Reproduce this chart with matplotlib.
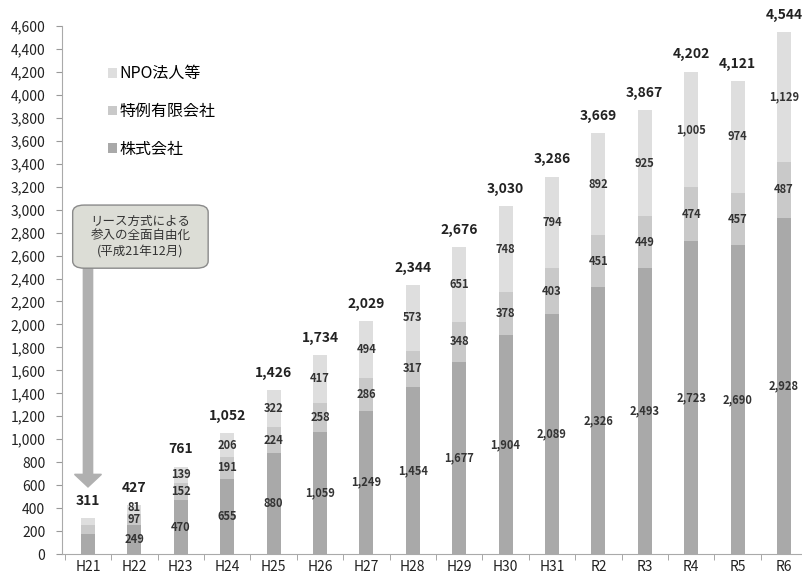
import matplotlib.pyplot as plt
import matplotlib
import numpy as np
from matplotlib.patches import FancyBboxPatch, FancyArrow

plt.rcParams['font.family'] = ['Noto Sans CJK JP', 'DejaVu Sans']

years = ['H21', 'H22', 'H23', 'H24', 'H25', 'H26', 'H27', 'H28',
         'H29', 'H30', 'H31', 'R2', 'R3', 'R4', 'R5', 'R6']
kabushiki = [177, 249, 470, 655, 880, 1059, 1249, 1454,
             1677, 1904, 2089, 2326, 2493, 2723, 2690, 2928]
tokurei = [76, 97, 152, 191, 224, 258, 286, 317,
           348, 378, 403, 451, 449, 474, 457, 487]
npo = [58, 81, 139, 206, 322, 417, 494, 573,
       651, 748, 794, 892, 925, 1005, 974, 1129]
totals = [311, 427, 761, 1052, 1426, 1734, 2029, 2344,
          2676, 3030, 3286, 3669, 3867, 4202, 4121, 4544]
series_names = ['株式会社', '特例有限会社', 'NPO法人等']
colors = ['#a9a9a9', '#c9c9c9', '#dedede']

fig = plt.figure(figsize=(8.03, 5.78), dpi=100)
ax = fig.add_axes([62/803, 1-554/578, (803-62)/803, (554-26)/578])

x = np.arange(len(years))
w = 0.3
series = [kabushiki, tokurei, npo]
bottom = np.zeros(len(years))
last_y = np.full(len(years), -1e9)
for s, name, c in zip(series, series_names, colors):
    ax.bar(x, s, w, bottom=bottom, color=c, label=name, zorder=2)
    # segment labels (not on the first year), keep small ones apart
    for i in range(1, len(years)):
        yy = max(bottom[i] + s[i] / 2, last_y[i] + 105)
        last_y[i] = yy
        ax.text(x[i], yy, f'{s[i]:,}', ha='center', va='center',
                fontsize=8, fontweight='bold', color='#333333', zorder=3)
    bottom = bottom + np.array(s)

for i, t in enumerate(totals):
    ax.text(x[i], t + 90, f'{t:,}', ha='center', va='bottom', fontsize=10,
            fontweight='bold', color='#222222', clip_on=False)

ax.set_xlim(-0.56, 15.41)
ax.set_ylim(0, 4600)
ax.set_yticks(np.arange(0, 4601, 200))
ax.set_yticklabels([f'{v:,}' for v in range(0, 4601, 200)], fontsize=10, color='#222222')
ax.set_xticks(x)
ax.set_xticklabels(years, fontsize=10, color='#222222')
ax.set_xticks(np.arange(-0.5, 15.5, 1), minor=True)
ax.tick_params(axis='x', which='major', length=0, pad=4)
ax.tick_params(axis='x', which='minor', length=4, color='#999999')
ax.tick_params(axis='y', length=4, color='#999999', pad=8)
for sp in ['top', 'right']:
    ax.spines[sp].set_visible(False)
ax.spines['left'].set_color('#aaaaaa')
ax.spines['bottom'].set_color('#aaaaaa')

# legend, NPO on top
h, l = ax.get_legend_handles_labels()
ax.legend(h[::-1], l[::-1], loc='upper left', bbox_to_anchor=(94/803, 1-51/578),
          bbox_transform=fig.transFigure, frameon=False, fontsize=11.5,
          handlelength=0.55, handleheight=0.55, handletextpad=0.15, labelspacing=1.3)

# callout box and arrow
ax.add_patch(FancyArrow(0, 2490, 0, 584 - 2490, width=0.2, head_width=0.58,
                        head_length=110, length_includes_head=True,
                        color='#b0b0b0', zorder=1))
box = FancyBboxPatch((-0.33, 2490), 2.92, 550, boxstyle='round,pad=0,rounding_size=0.25',
                     mutation_aspect=250, facecolor='#dcddd6', edgecolor='#8a8a8a',
                     linewidth=1, zorder=4)
ax.add_patch(box)
ax.text(1.13, 2765, 'リース方式による\n参入の全面自由化\n(平成21年12月)', ha='center', va='center',
        fontsize=9, color='#333333', linespacing=1.2, zorder=5)

fig.savefig('out.png', dpi=100)
